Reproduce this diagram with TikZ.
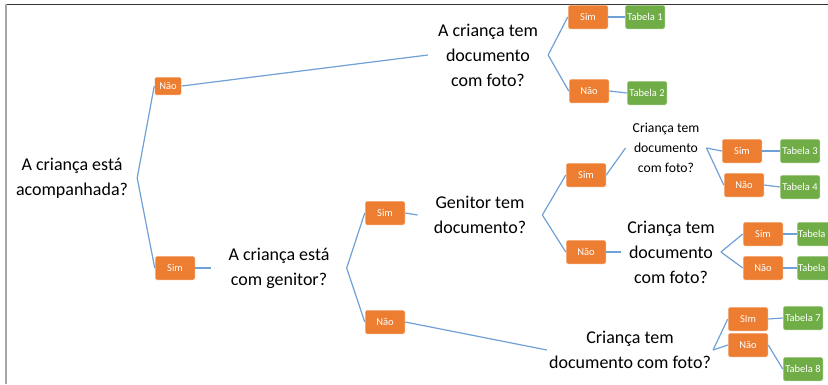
\documentclass[tikz,border=0pt]{standalone}
\usepackage{fontspec}
\setmainfont{Carlito}
\usepackage{tikz}
\usetikzlibrary{positioning}
\definecolor{laranja}{HTML}{ED7D31}
\definecolor{verde}{HTML}{70AD47}
\definecolor{linha}{HTML}{6FA0D6}
\tikzset{
pergunta/.style={align=center,font=\fontsize{18}{25}\selectfont,inner ysep=0pt},
perguntinha/.style={pergunta,font=\fontsize{13.7}{20}\selectfont},
resposta/.style={fill=laranja,draw=white,line width=0.5pt,rounded corners=1.5pt,text=white,
  font=\fontsize{10.5}{12}\selectfont,minimum width=40pt,minimum height=24pt,inner sep=0pt},
tabela/.style={resposta,fill=verde},
cortada/.style={tabela,text width=38pt,align=left,inner xsep=1pt},
ramo/.style={draw=linha,line width=1.2pt}
}
\begin{document}
\begin{tikzpicture}[x=1pt,y=-1pt]
\useasboundingbox (0,0) rectangle (828,384);
\clip (0,0) rectangle (828,384);
% moldura
\draw[black!80,line width=1pt] (5,4) -- (828,4);
\draw[black!35,line width=2pt] (6,4) -- (6,384);
% perguntas
\node[pergunta,inner xsep=9pt] (Q0) at (72,178) {A criança está\\acompanhada?};
\node[pergunta,inner xsep=10pt] (Q1) at (488,55) {A criança tem\\documento\\com foto?};
\node[pergunta,inner xsep=17pt] (Q2) at (279,268) {A criança está\\com genitor?};
\node[pergunta,inner xsep=16pt] (Q3) at (480,215) {Genitor tem\\documento?};
\node[perguntinha,inner xsep=7pt] (Q4) at (666,148) {Criança tem\\documento\\com foto?};
\node[pergunta,inner xsep=6pt] (Q5) at (671,252) {Criança tem\\documento\\com foto?};
\node[pergunta,inner xsep=2pt] (Q6) at (630,350) {Criança tem\\documento com foto?};
% respostas
\node[resposta,minimum width=27pt,minimum height=18pt] (N0) at (168,86) {Não};
\node[resposta] (S0) at (175,268) {Sim};
\node[resposta] (S1) at (588,17) {Sim};
\node[resposta] (N1) at (589,91) {Não};
\node[resposta] (S2) at (385,213) {Sim};
\node[resposta] (N2) at (385,322) {Não};
\node[resposta] (S3) at (586,175) {Sim};
\node[resposta] (N3) at (586,252) {Não};
\node[resposta] (S4) at (742,151) {Sim};
\node[resposta] (N4) at (744,185) {Não};
\node[resposta] (S5) at (763,234) {Sim};
\node[resposta] (N5) at (763,268) {Não};
\node[resposta] (S6) at (748,319) {SIm};
\node[resposta] (N6) at (748,345) {Não};
% tabelas
\node[tabela] (T1) at (645,17) {Tabela 1};
\node[tabela] (T2) at (647,93) {Tabela 2};
\node[tabela] (T3) at (800,151) {Tabela 3};
\node[tabela] (T4) at (800,187) {Tabela 4};
\node[cortada] (T5) at (817,234) {Tabela};
\node[cortada] (T6) at (817,268) {Tabela};
\node[tabela] (T7) at (803,318) {Tabela 7};
\node[tabela] (T8) at (803,369) {Tabela 8};
\path[ramo]
(Q0.east) edge (N0.west)
(Q0.east) edge (S0.west)
(N0.east) edge (Q1.west)
(S0.east) edge (Q2.west)
(Q1.east) edge (S1.west)
(Q1.east) edge (N1.west)
(S1.east) edge (T1.west)
(N1.east) edge (T2.west)
(Q2.east) edge (S2.west)
(Q2.east) edge (N2.west)
(S2.east) edge (Q3.west)
(N2.east) edge (Q6.west)
(Q3.east) edge (S3.west)
(Q3.east) edge (N3.west)
(S3.east) edge (Q4.west)
(N3.east) edge (Q5.west)
(Q4.east) edge (S4.west)
(Q4.east) edge (N4.west)
(S4.east) edge (T3.west)
(N4.east) edge (T4.west)
(Q5.east) edge (S5.west)
(Q5.east) edge (N5.west)
(S5.east) edge (T5.west)
(N5.east) edge (T6.west)
(Q6.east) edge (S6.west)
(Q6.east) edge (N6.west)
(S6.east) edge (T7.west)
(N6.east) edge (T8.west);
\end{tikzpicture}
\end{document}
